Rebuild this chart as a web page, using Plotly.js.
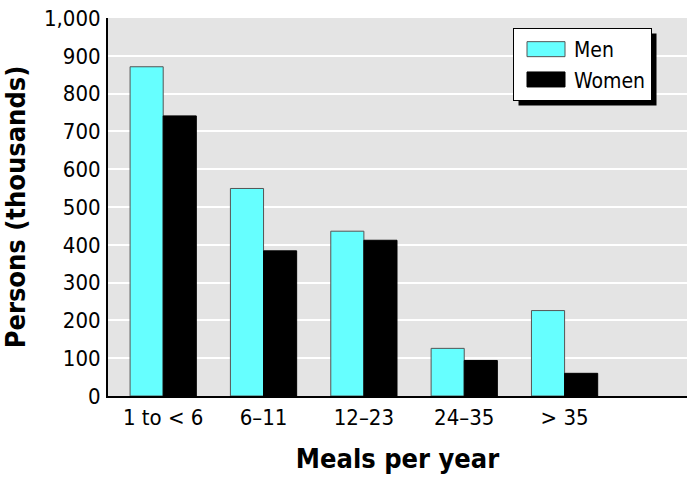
<!DOCTYPE html>
<html>
<head>
<meta charset="utf-8">
<script src="https://cdn.plot.ly/plotly-3.0.1.min.js"></script>
<style>html,body{margin:0;padding:0;background:#fff;}#chart{width:687px;height:483px;}</style>
</head>
<body>
<div id="chart"></div>
<script>
const categories = ["1 to < 6", "6\u201311", "12\u201323", "24\u201335", "> 35"];
const menValues = [871, 549, 436, 126, 226];
const womenValues = [741, 384, 412, 94, 60];
const yTickValues = [0, 100, 200, 300, 400, 500, 600, 700, 800, 900, 1000];
const yTickLabels = ["0", "100", "200", "300", "400", "500", "600", "700", "800", "900", "1,000"];

const FONT = "'DejaVu Sans Condensed', 'Liberation Sans', sans-serif";

const traces = [
  {type: "bar", name: "Men", x: categories, y: menValues,
   marker: {color: "#66ffff", line: {color: "#555555", width: 1}}},
  {type: "bar", name: "Women", x: categories, y: womenValues,
   marker: {color: "#000000", line: {color: "#000000", width: 1}}}
];

const layout = {
  width: 687, height: 483,
  margin: {l: 108, r: 0, t: 18, b: 87},
  paper_bgcolor: "#ffffff",
  plot_bgcolor: "#e4e4e4",
  font: {family: FONT, color: "#000", size: 22},
  barmode: "group",
  bargap: 0.34,
  bargroupgap: 0,
  xaxis: {
    range: [-0.55, 5.22],
    showline: true, linecolor: "#000", linewidth: 2,
    showgrid: false, zeroline: false,
    ticks: "", ticklabelstandoff: 1,
    tickfont: {family: FONT, size: 22},
    title: {text: "<b>Meals per year</b>", font: {family: FONT, size: 27}, standoff: 20}
  },
  yaxis: {
    range: [0, 1000],
    tickvals: yTickValues, ticktext: yTickLabels,
    showline: true, linecolor: "#000", linewidth: 2,
    showgrid: true, gridcolor: "#ffffff", gridwidth: 2,
    zeroline: false, ticks: "", ticklabelstandoff: 1,
    tickfont: {family: FONT, size: 22},
    title: {text: "<b>Persons (thousands)</b>", font: {family: FONT, size: 27}, standoff: 18}
  },
  legend: {
    x: 0.6995, y: 0.9735, xanchor: "left", yanchor: "top",
    bgcolor: "#ffffff", bordercolor: "#000", borderwidth: 1,
    font: {family: FONT, size: 21}, itemwidth: 50, tracegroupgap: 0
  }
};

function widenLegendSwatches(gd) {
  gd.querySelectorAll(".legend .legendpoints path").forEach(p => {
    p.setAttribute("d", "M21,7.5H-17V-7.5H21Z");
  });
}

Plotly.newPlot("chart", traces, layout, {displayModeBar: false, staticPlot: true}).then(gd => {
  const bg = gd.querySelector(".legend .bg").getBoundingClientRect();
  const host = gd.getBoundingClientRect();
  const s = gd._fullLayout._size;
  const off = 5;
  const toX = px => (px - host.left - s.l) / s.w;
  const toY = py => 1 - (py - host.top - s.t) / s.h;
  return Plotly.relayout(gd, {shapes: [{
    type: "rect", xref: "paper", yref: "paper",
    x0: toX(bg.left + off), x1: toX(bg.right + off),
    y0: toY(bg.bottom + off), y1: toY(bg.top + off),
    fillcolor: "#000", line: {width: 0}, layer: "above"
  }]});
}).then(gd => widenLegendSwatches(gd));
</script>
</body>
</html>
